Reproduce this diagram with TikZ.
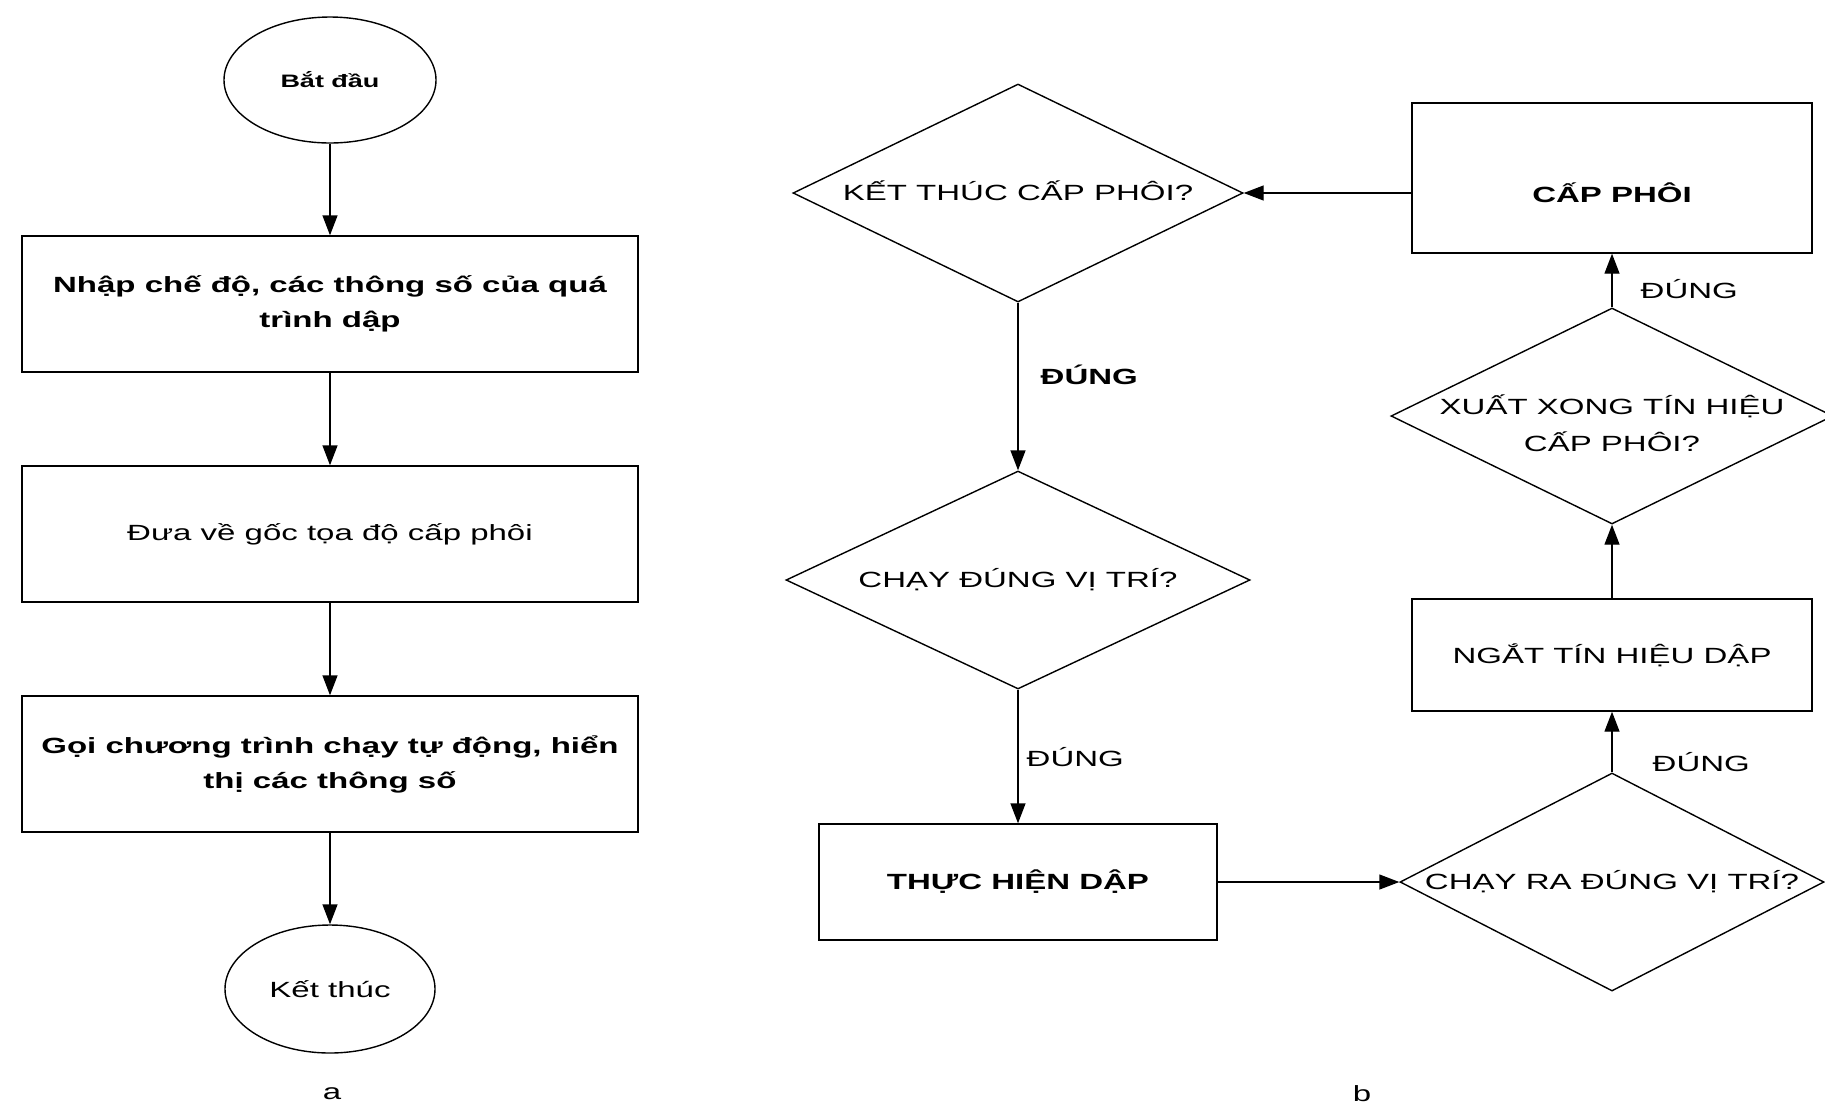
\documentclass[tikz,border=0pt]{standalone}
\usepackage{fontspec}
\setmainfont{Liberation Sans}[FakeStretch=1.5]
\usetikzlibrary{shapes.geometric,arrows.meta}
\newcommand{\dtext}[1]{\makebox[0pt]{\begin{tabular}{@{}c@{}}#1\end{tabular}}}

\begin{document}
\begin{tikzpicture}[x=0.5pt,y=-0.5pt,line width=0.7pt,
  font=\fontsize{11}{17.5}\selectfont,
  >={Triangle[length=10pt,width=7.5pt]},
  strong/.style={font=\fontsize{11}{17.5}\selectfont\bfseries},
  box/.style={draw,rectangle,minimum width=308pt,minimum height=68pt,align=center,inner sep=2pt},
  oval/.style={draw,ellipse,minimum width=106pt,minimum height=63pt,inner sep=0pt},
  dia/.style={draw,diamond,inner sep=0pt,minimum width=225pt,minimum height=109pt},
  lbl/.style={anchor=west,inner sep=0pt}]
  \useasboundingbox (0,0) rectangle (1825,1115);

  \node[oval,font=\fontsize{9}{11}\selectfont\bfseries] (start) at (330,80){Bắt đầu};
  \node[box,strong] (input) at (330,304){Nhập chế độ, các thông số của quá\\trình dập};
  \node[box] (home) at (330,534){Đưa về gốc tọa độ cấp phôi};
  \node[box,strong] (auto) at (330,764){Gọi chương trình chạy tự động, hiển\\thị các thông số};
  \node[oval,minimum width=105pt,minimum height=64pt] (stop) at (330,989){Kết thúc};
  \node (capa) at (332,1094){a};

  \node[dia] (endfeed) at (1018,193){\dtext{KẾT THÚC CẤP PHÔI?}};
  \node[dia,minimum width=232pt] (pos) at (1018,580){\dtext{CHẠY ĐÚNG VỊ TRÍ?}};
  \node[box,strong,minimum width=199pt,minimum height=58pt] (press) at (1018,882){THỰC HIỆN DẬP};
  \node (capb) at (1362,1094){b};

  \node[box,strong,minimum width=200pt,minimum height=75pt,text height=24pt,text depth=0pt] (feed) at (1612,178){CẤP PHÔI};
  \node[dia,minimum width=221pt,minimum height=108pt] (sent) at (1612,416){\dtext{\raisebox{-5pt}{XUẤT XONG TÍN HIỆU}\\\raisebox{-5pt}{CẤP PHÔI?}}};
  \node[box,minimum width=200pt,minimum height=56pt] (cut) at (1612,655){NGẮT TÍN HIỆU DẬP};
  \node[dia,minimum width=212pt] (back) at (1612,882){\dtext{CHẠY RA ĐÚNG VỊ TRÍ?}};

  \node[lbl,strong] (yes1) at (1040,375){ĐÚNG};
  \node[lbl] (yes2) at (1026,757){ĐÚNG};
  \node[lbl] (yes3) at (1640,289){ĐÚNG};
  \node[lbl] (yes4) at (1652,762){ĐÚNG};

  \draw[->] (start) -- (input);
  \draw[->] (input) -- (home);
  \draw[->] (home) -- (auto);
  \draw[->] (auto) -- (stop);

  \draw[->] (feed.west |- endfeed) -- (endfeed.east);
  \draw[->] (endfeed) -- (pos);
  \draw[->] (pos) -- (press);
  \draw[->] (press) -- (back);
  \draw[->] (back) -- (cut);
  \draw[->] (cut) -- (sent);
  \draw[->] (sent) -- (feed);
\end{tikzpicture}
\end{document}
